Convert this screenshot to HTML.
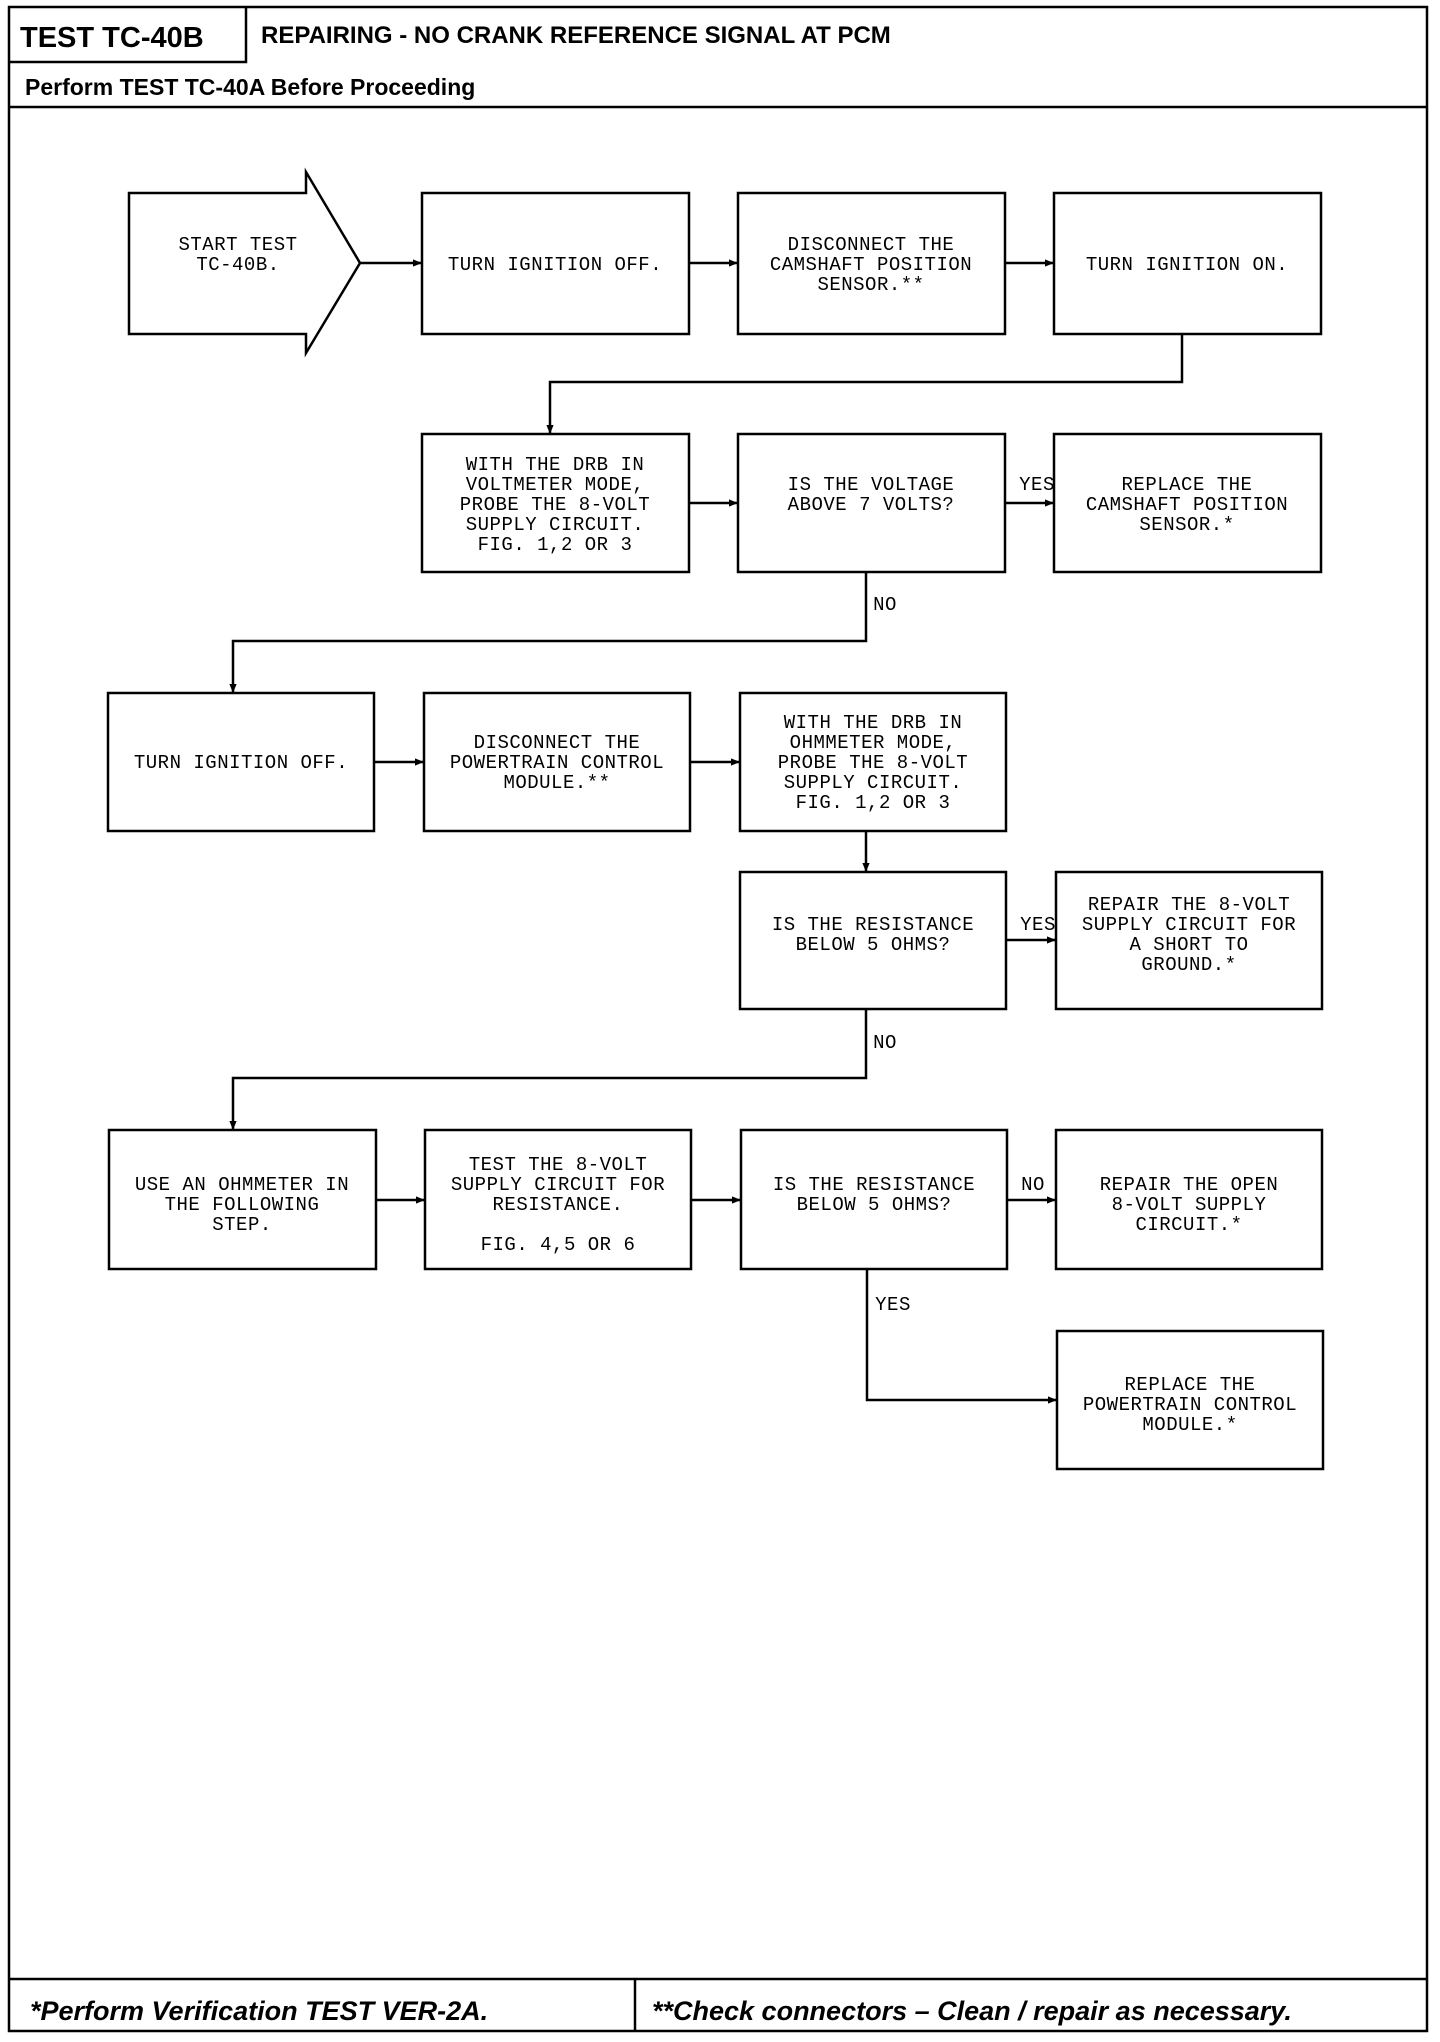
<!DOCTYPE html>
<html><head><meta charset="utf-8"><style>
body{margin:0;background:#fff}
svg{display:block}
.b{fill:#fff;stroke:#000;stroke-width:2.5}
.l{fill:none;stroke:#000;stroke-width:2.5}
.t{font-family:"Liberation Mono",monospace;font-size:19px;letter-spacing:0.5px;text-anchor:middle}
.h{font-family:"Liberation Sans",sans-serif;font-weight:bold}
</style></head><body>
<svg width="1440" height="2042" viewBox="0 0 1440 2042" xmlns="http://www.w3.org/2000/svg">
<defs><marker id="a" viewBox="0 0 10 10" refX="10" refY="5" markerWidth="9" markerHeight="9" markerUnits="userSpaceOnUse" orient="auto"><path d="M0,1 L10,5 L0,9 z" fill="#000"/></marker></defs>
<rect x="9" y="7" width="1418" height="2024" class="l" stroke-width="3"/>
<line x1="9" y1="107" x2="1427" y2="107" class="l" stroke-width="3"/>
<line x1="9" y1="1979" x2="1427" y2="1979" class="l" stroke-width="3"/>
<line x1="635" y1="1979" x2="635" y2="2031" class="l"/>
<polyline points="9,62 246,62 246,7" class="l"/>
<text x="20" y="47" class="h" font-size="29">TEST TC-40B</text>
<text x="261" y="43" class="h" font-size="24">REPAIRING - NO CRANK REFERENCE SIGNAL AT PCM</text>
<text x="25" y="95" class="h" font-size="23">Perform TEST TC-40A Before Proceeding</text>
<text x="30" y="2020" class="h" font-size="27" font-style="italic">*Perform Verification TEST VER-2A.</text>
<text x="652" y="2020" class="h" font-size="27" font-style="italic">**Check connectors – Clean / repair as necessary.</text>

<!-- row1 -->
<polygon points="129,193 306,193 306,172 360,263 306,353 306,334 129,334" class="b"/>
<text class="t" x="238" y="250">START TEST</text><text class="t" x="238" y="270">TC-40B.</text>
<rect x="422" y="193" width="267" height="141" class="b"/>
<text class="t" x="555" y="270">TURN IGNITION OFF.</text>
<rect x="738" y="193" width="267" height="141" class="b"/>
<text class="t" x="871" y="250">DISCONNECT THE</text><text class="t" x="871" y="270">CAMSHAFT POSITION</text><text class="t" x="871" y="290">SENSOR.**</text>
<rect x="1054" y="193" width="267" height="141" class="b"/>
<text class="t" x="1187" y="270">TURN IGNITION ON.</text>
<line x1="360" y1="263" x2="422" y2="263" class="l" marker-end="url(#a)"/>
<line x1="689" y1="263" x2="738" y2="263" class="l" marker-end="url(#a)"/>
<line x1="1005" y1="263" x2="1054" y2="263" class="l" marker-end="url(#a)"/>
<polyline points="1182,334 1182,382 550,382 550,434" class="l" marker-end="url(#a)"/>

<!-- row2 -->
<rect x="422" y="434" width="267" height="138" class="b"/>
<text class="t" x="555" y="470">WITH THE DRB IN</text><text class="t" x="555" y="490">VOLTMETER MODE,</text><text class="t" x="555" y="510">PROBE THE 8-VOLT</text><text class="t" x="555" y="530">SUPPLY CIRCUIT.</text><text class="t" x="555" y="550">FIG. 1,2 OR 3</text>
<rect x="738" y="434" width="267" height="138" class="b"/>
<text class="t" x="871" y="490">IS THE VOLTAGE</text><text class="t" x="871" y="510">ABOVE 7 VOLTS?</text>
<rect x="1054" y="434" width="267" height="138" class="b"/>
<text class="t" x="1187" y="490">REPLACE THE</text><text class="t" x="1187" y="510">CAMSHAFT POSITION</text><text class="t" x="1187" y="530">SENSOR.*</text>
<line x1="689" y1="503" x2="738" y2="503" class="l" marker-end="url(#a)"/>
<line x1="1005" y1="503" x2="1054" y2="503" class="l" marker-end="url(#a)"/>
<text class="t" x="1037" y="490">YES</text>
<polyline points="866,572 866,641 233,641 233,693" class="l" marker-end="url(#a)"/>
<text class="t" x="885" y="610">NO</text>

<!-- row3 -->
<rect x="108" y="693" width="266" height="138" class="b"/>
<text class="t" x="241" y="768">TURN IGNITION OFF.</text>
<rect x="424" y="693" width="266" height="138" class="b"/>
<text class="t" x="557" y="748">DISCONNECT THE</text><text class="t" x="557" y="768">POWERTRAIN CONTROL</text><text class="t" x="557" y="788">MODULE.**</text>
<rect x="740" y="693" width="266" height="138" class="b"/>
<text class="t" x="873" y="728">WITH THE DRB IN</text><text class="t" x="873" y="748">OHMMETER MODE,</text><text class="t" x="873" y="768">PROBE THE 8-VOLT</text><text class="t" x="873" y="788">SUPPLY CIRCUIT.</text><text class="t" x="873" y="808">FIG. 1,2 OR 3</text>
<line x1="374" y1="762" x2="424" y2="762" class="l" marker-end="url(#a)"/>
<line x1="690" y1="762" x2="740" y2="762" class="l" marker-end="url(#a)"/>
<line x1="866" y1="831" x2="866" y2="872" class="l" marker-end="url(#a)"/>

<!-- row4 -->
<rect x="740" y="872" width="266" height="137" class="b"/>
<text class="t" x="873" y="930">IS THE RESISTANCE</text><text class="t" x="873" y="950">BELOW 5 OHMS?</text>
<rect x="1056" y="872" width="266" height="137" class="b"/>
<text class="t" x="1189" y="910">REPAIR THE 8-VOLT</text><text class="t" x="1189" y="930">SUPPLY CIRCUIT FOR</text><text class="t" x="1189" y="950">A SHORT TO</text><text class="t" x="1189" y="970">GROUND.*</text>
<line x1="1006" y1="940" x2="1056" y2="940" class="l" marker-end="url(#a)"/>
<text class="t" x="1038" y="930">YES</text>
<polyline points="866,1009 866,1078 233,1078 233,1130" class="l" marker-end="url(#a)"/>
<text class="t" x="885" y="1048">NO</text>

<!-- row5 -->
<rect x="109" y="1130" width="267" height="139" class="b"/>
<text class="t" x="242" y="1190">USE AN OHMMETER IN</text><text class="t" x="242" y="1210">THE FOLLOWING</text><text class="t" x="242" y="1230">STEP.</text>
<rect x="425" y="1130" width="266" height="139" class="b"/>
<text class="t" x="558" y="1170">TEST THE 8-VOLT</text><text class="t" x="558" y="1190">SUPPLY CIRCUIT FOR</text><text class="t" x="558" y="1210">RESISTANCE.</text><text class="t" x="558" y="1250">FIG. 4,5 OR 6</text>
<rect x="741" y="1130" width="266" height="139" class="b"/>
<text class="t" x="874" y="1190">IS THE RESISTANCE</text><text class="t" x="874" y="1210">BELOW 5 OHMS?</text>
<rect x="1056" y="1130" width="266" height="139" class="b"/>
<text class="t" x="1189" y="1190">REPAIR THE OPEN</text><text class="t" x="1189" y="1210">8-VOLT SUPPLY</text><text class="t" x="1189" y="1230">CIRCUIT.*</text>
<line x1="376" y1="1200" x2="425" y2="1200" class="l" marker-end="url(#a)"/>
<line x1="691" y1="1200" x2="741" y2="1200" class="l" marker-end="url(#a)"/>
<line x1="1007" y1="1200" x2="1056" y2="1200" class="l" marker-end="url(#a)"/>
<text class="t" x="1033" y="1190">NO</text>
<polyline points="867,1269 867,1400 1057,1400" class="l" marker-end="url(#a)"/>
<text class="t" x="893" y="1310">YES</text>
<rect x="1057" y="1331" width="266" height="138" class="b"/>
<text class="t" x="1190" y="1390">REPLACE THE</text><text class="t" x="1190" y="1410">POWERTRAIN CONTROL</text><text class="t" x="1190" y="1430">MODULE.*</text>
</svg>
</body></html>
